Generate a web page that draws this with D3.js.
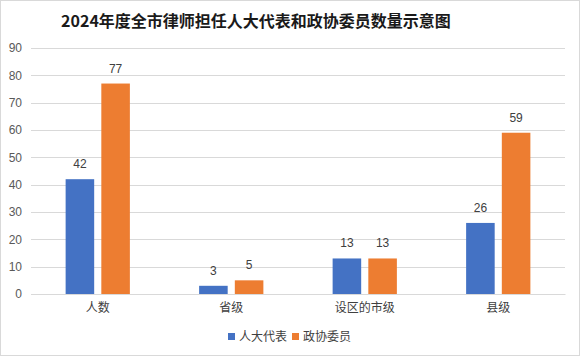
<!DOCTYPE html>
<html><head><meta charset="utf-8">
<script src="https://cdn.jsdelivr.net/npm/d3@7"></script>
<style>
html,body{margin:0;padding:0;background:#fff;}
svg{display:block;font-family:"Noto Sans CJK SC","Microsoft YaHei",sans-serif;}
</style></head><body>
<div id="chart"></div>
<script>
const title = "2024年度全市律师担任人大代表和政协委员数量示意图";
const categories = ["人数", "省级", "设区的市级", "县级"];
const seriesNames = ["人大代表", "政协委员"];
const renda = [42, 3, 13, 26];
const zhengxie = [77, 5, 13, 59];
const yTicks = [0, 10, 20, 30, 40, 50, 60, 70, 80, 90];
const colors = ["#4472C4", "#ED7D31"];

const W = 580, H = 357;
const margin = {left: 31, right: 15, top: 48, bottom: 63};
const svg = d3.select("#chart").append("svg").attr("width", W).attr("height", H);

svg.append("rect").attr("x", 0.5).attr("y", 0.5).attr("width", W - 1).attr("height", H - 2)
  .attr("fill", "#fff").attr("stroke", "#d9d9d9");

const x0 = d3.scaleBand().domain(categories).range([margin.left, W - margin.right]).paddingInner(0).paddingOuter(0);
const x1 = d3.scaleBand().domain(seriesNames).range([0, x0.bandwidth()]).paddingInner(0.2).paddingOuter(0.97);
const y = d3.scaleLinear().domain([0, 90]).range([H - margin.bottom, margin.top]);

// gridlines
svg.append("g").selectAll("line").data(yTicks).join("line")
  .attr("x1", margin.left).attr("x2", W - margin.right)
  .attr("y1", d => Math.round(y(d)) + 0.5).attr("y2", d => Math.round(y(d)) + 0.5)
  .attr("stroke", "#d9d9d9").attr("stroke-width", 1);

// y axis labels
const yAxis = d3.axisLeft(y).tickValues(yTicks).tickSize(0).tickPadding(0);
const gy = svg.append("g").attr("transform", `translate(${margin.left - 9},0)`).call(yAxis);
gy.select(".domain").remove();
gy.selectAll("text").attr("font-size", 12).attr("fill", "#595959")
  .attr("font-family", "'Liberation Sans', Arial, sans-serif");

// bars
const data = categories.map((c, i) => ({c, vals: [renda[i], zhengxie[i]]}));
const groups = svg.append("g").selectAll("g").data(data).join("g")
  .attr("transform", d => `translate(${x0(d.c)},0)`);
groups.selectAll("rect").data(d => d.vals.map((v, j) => ({v, s: seriesNames[j], j})))
  .join("rect")
  .attr("x", d => x1(d.s)).attr("width", x1.bandwidth())
  .attr("y", d => y(d.v)).attr("height", d => y(0) - y(d.v))
  .attr("fill", d => colors[d.j]);
groups.selectAll("text").data(d => d.vals.map((v, j) => ({v, s: seriesNames[j], j})))
  .join("text")
  .attr("x", d => x1(d.s) + x1.bandwidth() / 2).attr("y", d => y(d.v) - 11)
  .attr("text-anchor", "middle").attr("font-size", 12).attr("fill", "#404040")
  .attr("font-family", "'Liberation Sans', Arial, sans-serif")
  .text(d => d.v);

// x axis
const xAxis = d3.axisBottom(x0).tickSize(0).tickPadding(9);
const gx = svg.append("g").attr("transform", `translate(0,${y(0)})`).call(xAxis);
gx.select(".domain").attr("stroke", "#d9d9d9");
gx.selectAll("text").attr("font-size", 12).attr("fill", "#404040")
  .attr("font-family", "'Noto Sans CJK SC', sans-serif");

// title
svg.append("text").attr("x", 256).attr("y", 27).attr("text-anchor", "middle")
  .attr("font-size", 16).attr("font-weight", "bold").attr("fill", "#1a1a1a")
  .text(title);

// legend
const legend = svg.append("g");
const lx = [228, 292];
seriesNames.forEach((s, i) => {
  legend.append("rect").attr("x", lx[i]).attr("y", 333).attr("width", 7).attr("height", 7).attr("fill", colors[i]);
  legend.append("text").attr("x", lx[i] + 11).attr("y", 337).attr("dy", "0.35em")
    .attr("font-size", 12).attr("fill", "#404040").text(s);
});
</script>
</body></html>
